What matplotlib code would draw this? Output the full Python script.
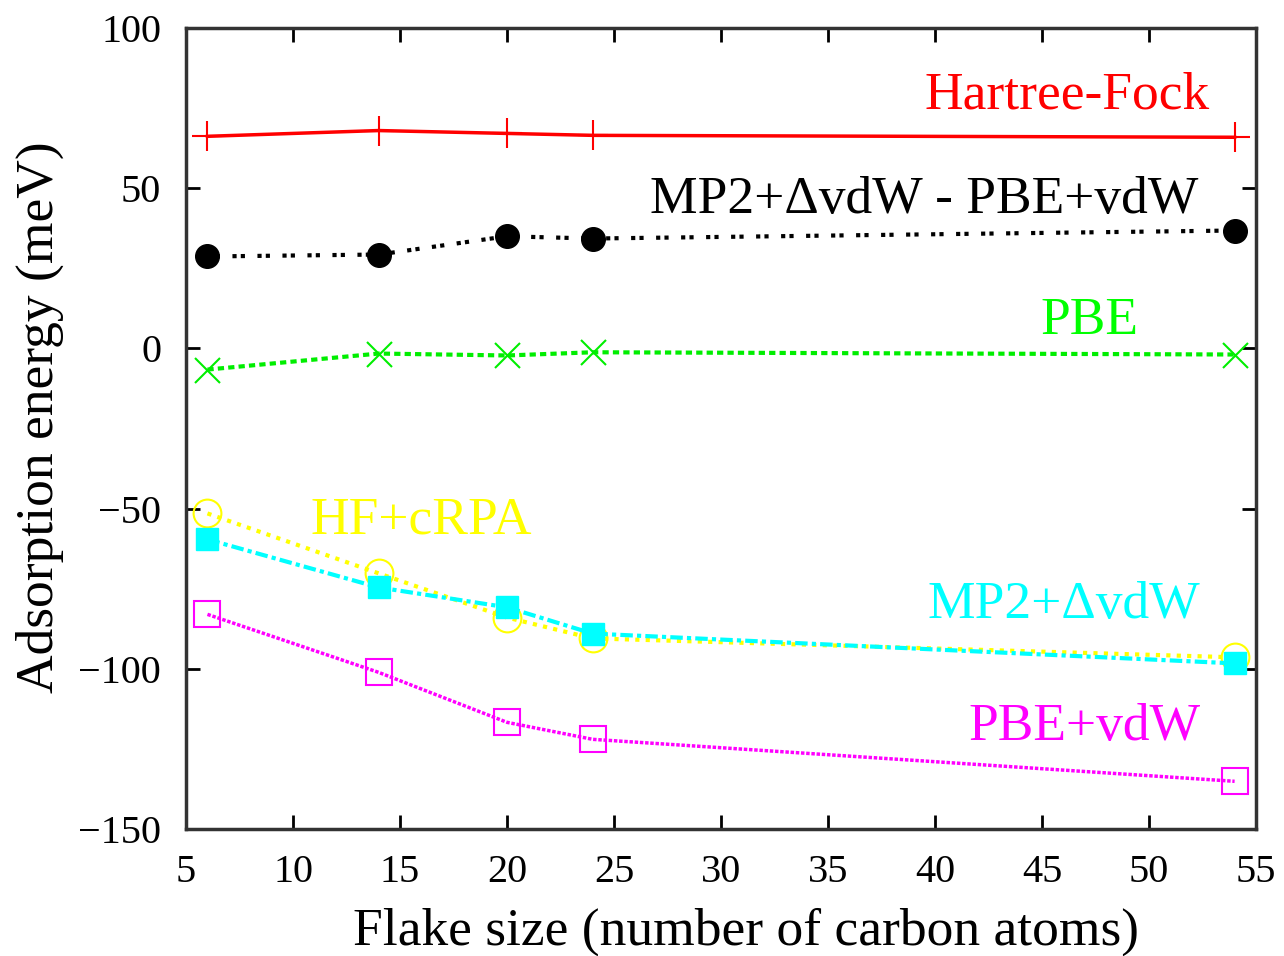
import matplotlib
matplotlib.use("Agg")
from matplotlib import pyplot as plt

# flake sizes (number of carbon atoms)
flake_size = [6, 14, 20, 24, 54]

# adsorption energies in meV
hartree_fock = [66.2, 68.0, 67.1, 66.5, 65.9]
mp2_minus_pbe = [28.7, 29.3, 35.0, 34.3, 36.8]
pbe = [-6.6, -1.6, -2.2, -1.2, -1.9]
hf_crpa = [-51.5, -70.2, -84.0, -90.5, -96.4]
mp2_dvdw = [-59.6, -74.6, -80.8, -89.0, -98.3]
pbe_vdw = [-83.0, -101.1, -116.7, -122.0, -135.1]

plt.rcParams["font.family"] = ["Liberation Serif", "DejaVu Serif"]

fig = plt.figure(figsize=(12.84, 9.56), dpi=100)
ax = fig.add_axes([0.1449, 0.1328, 0.8333, 0.8379])

ax.plot(flake_size, hartree_fock, color="#ff0000", lw=2.5, marker="+",
        ms=22, mew=1.5)
ax.plot(flake_size, mp2_minus_pbe, color="black", lw=3, ls=(0, (1, 1, 1, 3)),
        marker="o", ms=17)
ax.plot(flake_size, pbe, color="#00ee00", lw=3, ls=(0, (1.5, 1)),
        marker="x", ms=18, mew=1.5)
ax.plot(flake_size, hf_crpa, color="#ffff00", lw=3, ls=(0, (1, 1.5)),
        marker="o", ms=20, mfc="none", mew=1.5)
ax.plot(flake_size, mp2_dvdw, color="#00ffff", lw=3, ls=(0, (3, 1, 1, 1)),
        marker="s", ms=16)
ax.plot(flake_size, pbe_vdw, color="#ff00ff", lw=2.5, ls=(0, (1, 0.5)),
        marker="s", ms=19, mfc="none", mew=1.5)

lab_size = 38.5
ax.text(52.85, 79, "Hartree-Fock", color="#ff0000", fontsize=lab_size,
        ha="right", va="center")
ax.text(52.3, 46.2, "MP2+\u0394vdW - PBE+vdW", color="black", fontsize=lab_size,
        ha="right", va="center")
ax.text(49.5, 8.7, "PBE", color="#00ff00", fontsize=lab_size,
        ha="right", va="center")
ax.text(10.8, -53.7, "HF+cRPA", color="#ffff00", fontsize=lab_size,
        ha="left", va="center")
ax.text(52.4, -80.2, "MP2+\u0394vdW", color="#00ffff", fontsize=lab_size,
        ha="right", va="center")
ax.text(52.4, -118.3, "PBE+vdW", color="#ff00ff", fontsize=lab_size,
        ha="right", va="center")

ax.set_xlim(5, 55)
ax.set_ylim(-150, 100)
ax.set_xticks(range(5, 56, 5))
ax.set_yticks(range(-150, 101, 50))
ax.set_yticklabels([f"\u2212{abs(v)}" if v < 0 else str(v) for v in range(-150, 101, 50)])
ax.tick_params(direction="in", length=10, width=2, labelsize=29,
               top=True, right=True)
ax.tick_params(axis="x", pad=18)
ax.tick_params(axis="y", pad=18)
for sp in ax.spines.values():
    sp.set_linewidth(2.5)
    sp.set_color("#333333")

ax.set_xlabel("Flake size (number of carbon atoms)", fontsize=38.5, labelpad=12)
ax.set_ylabel("Adsorption energy (meV)", fontsize=38.5, labelpad=10)
ax.xaxis.label.set_x(0.523)
ax.yaxis.label.set_y(0.514)

fig.savefig("out.png", dpi=100)
